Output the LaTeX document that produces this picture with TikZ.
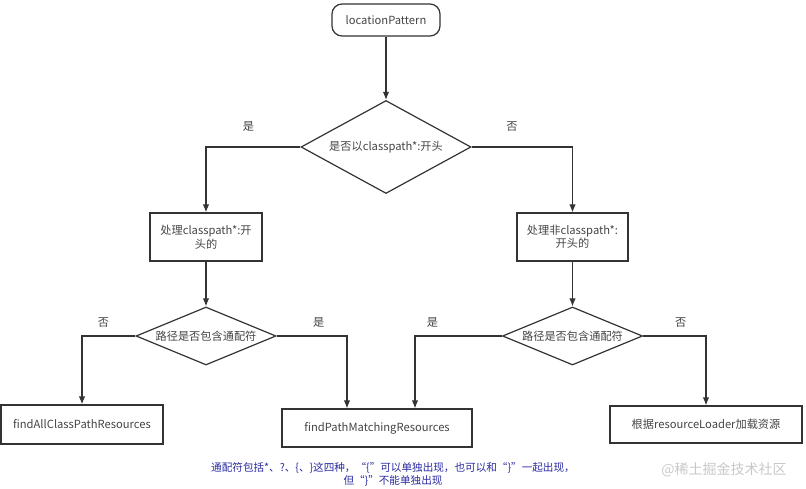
\documentclass[tikz,border=0pt]{standalone}
\usepackage{fontspec}
\setmainfont{Noto Sans CJK SC}
\usepackage{tikz}
\usetikzlibrary{shapes.geometric,arrows.meta}
\definecolor{linegray}{HTML}{333333}
\definecolor{textgray}{HTML}{444444}
\definecolor{noteblue}{HTML}{2A2AA0}
\definecolor{markgray}{HTML}{C8C8C8}

\begin{document}
\begin{tikzpicture}[x=1pt, y=1pt, >={Latex[length=8pt,width=6.5pt]},
  every node/.style={font=\fontsize{11.2}{13.5}\selectfont, text=textgray},
  flow/.style={draw=linegray, line width=1.2pt, ->},
  procbox/.style={draw=linegray, line width=1.2pt, rectangle, align=center, inner sep=2pt},
  decision/.style={draw=linegray, line width=1.2pt, diamond, inner sep=0pt},
  branch/.style={above=#1, inner sep=0pt}, branch/.default=8pt]
  \useasboundingbox (0,0) rectangle (806,488);

  % Start and first test
  \node[procbox, rounded corners=10pt, minimum width=108pt, minimum height=32pt] (start) at (386,468) {locationPattern};
  \node[decision, shape aspect=1.83, minimum width=170pt, minimum height=93pt] (d1) at (386,341) {是否以classpath*:开头};

  % Two handlers
  \node[procbox, minimum width=112pt, minimum height=48pt] (p1) at (206,251) {处理classpath*:开\\头的};
  \node[procbox, minimum width=111pt, minimum height=48pt] (p2) at (572.5,251) {处理非classpath*:\\开头的};

  % Wildcard tests
  \node[decision, shape aspect=2.4, minimum width=140pt, minimum height=58pt] (d2) at (206,152) {路径是否包含通配符};
  \node[decision, shape aspect=2.4, minimum width=140pt, minimum height=58pt] (d3) at (572.5,152) {路径是否包含通配符};

  % Results
  \node[procbox, minimum width=162pt, minimum height=39pt] (r1) at (82,63.5) {findAllClassPathResources};
  \node[procbox, minimum width=190pt, minimum height=38pt] (r2) at (377,60) {findPathMatchingResources};
  \node[procbox, minimum width=192pt, minimum height=37pt] (r3) at (706,63.5) {根据resourceLoader加载资源};

  % Connectors
  \draw[flow] (start) -- (d1);
  \draw[flow] (d1.west) -| node[branch=15pt, pos=0.275] {是} (p1.north);
  \draw[flow] (d1.east) -| node[branch=15pt, pos=0.2] {否} (p2.north);
  \draw[flow] (p1) -- (d2);
  \draw[flow] (p2) -- (d3);
  \draw[flow] (d2.west) -| node[branch, pos=0.3] {否} (r1.north);
  \draw[flow] (d2.east) -| node[branch, pos=0.3] {是} ([xshift=-30pt]r2.north);
  \draw[flow] (d3.west) -| node[branch, pos=0.4] {是} ([xshift=38pt]r2.north);
  \draw[flow] (d3.east) -| node[branch, pos=0.3] {否} (r3.north);

  % Note and watermark
  \node[text=noteblue, align=center, font=\fontsize{10.6}{13}\selectfont] (note) at (393,14)
    {通配符包括*、?、\{、\}这四种，“\{”可以单独出现，也可以和“\}”一起出现，\\但“\}”不能单独出现};
  \node[text=markgray, font=\fontsize{14}{16}\selectfont] (mark) at (724,18) {@稀土掘金技术社区};
\end{tikzpicture}
\end{document}
